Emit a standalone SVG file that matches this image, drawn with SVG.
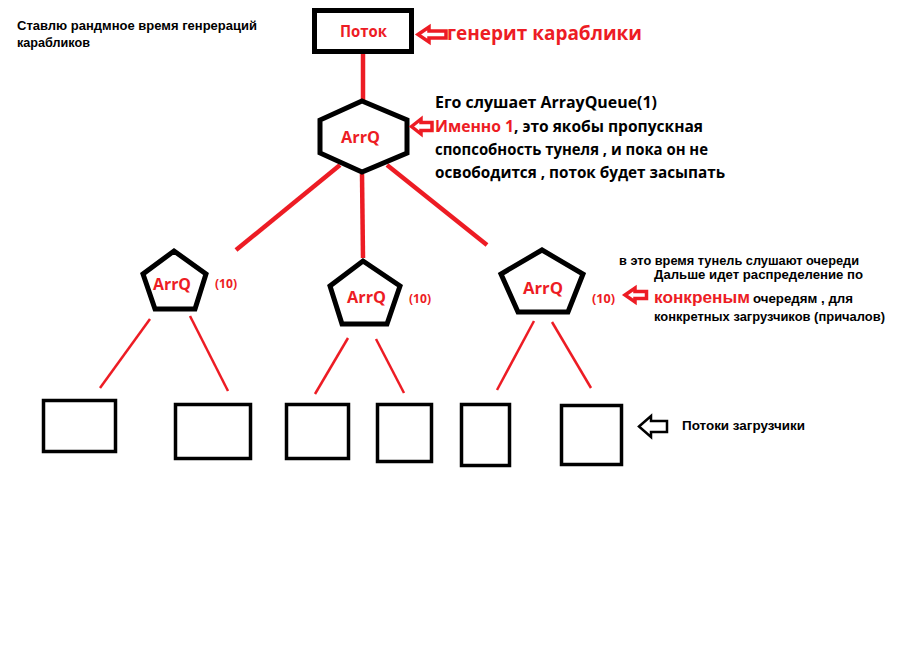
<svg xmlns="http://www.w3.org/2000/svg" width="911" height="668" viewBox="0 0 911 668">
<style>
.bg{fill:#fff}
.shape{fill:#fff;stroke:#000;stroke-width:5;stroke-linejoin:miter}
.box{fill:#fff;stroke:#000;stroke-width:3.5}
.thick{stroke:#ed1c24;stroke-width:4.5;fill:none}
.thin{stroke:#ed1c24;stroke-width:2.5;fill:none}
.rarrow{fill:#fff;stroke:#ed1c24;stroke-width:3.5;stroke-linejoin:miter}
.barrow{fill:#fff;stroke:#000;stroke-width:2.5;stroke-linejoin:miter}
text{font-family:"Open Sans","Liberation Sans",sans-serif;font-weight:700}
.small{font-family:"Liberation Sans","Open Sans",sans-serif}
.red{fill:#ed1c24}
.blk{fill:#000}
</style>
<rect class="bg" x="0" y="0" width="911" height="668"/>
<g id="connectors">
<line class="thick" x1="363" y1="53" x2="363" y2="100"/>
<line class="thick" x1="340" y1="165" x2="236" y2="250"/>
<line class="thick" x1="362" y1="174" x2="363" y2="258"/>
<line class="thick" x1="387" y1="165" x2="487" y2="245"/>
<line class="thin" x1="150" y1="319" x2="100" y2="388"/>
<line class="thin" x1="190" y1="316" x2="228" y2="391"/>
<line class="thin" x1="348" y1="338" x2="315" y2="394"/>
<line class="thin" x1="376" y1="339" x2="404" y2="393"/>
<line class="thin" x1="534" y1="321" x2="497" y2="390"/>
<line class="thin" x1="552" y1="322" x2="591" y2="388"/>
</g>
<g id="note-left">
<text class="blk small" x="17" y="30" font-size="12.5" textLength="240" lengthAdjust="spacingAndGlyphs">Ставлю рандмное время генрераций</text>
<text class="blk small" x="17" y="47" font-size="12.5" textLength="73" lengthAdjust="spacingAndGlyphs">карабликов</text>
</g>
<g id="potok">
<rect x="314.5" y="10.5" width="97" height="41" fill="#fff" stroke="#000" stroke-width="5"/>
<text class="red" x="340" y="37" font-size="16" textLength="47" lengthAdjust="spacingAndGlyphs">Поток</text>
</g>
<g id="potok-note">
<path class="rarrow" d="M418,34.5 L429,27 L429,31 L446,31 L446,38 L429,38 L429,42 Z"/>
<text class="red" x="447" y="40" font-size="19.5" textLength="195" lengthAdjust="spacingAndGlyphs">генерит караблики</text>
</g>
<g id="hex">
<polygon class="shape" points="362,101 407,120 407,153 362,172 320,153 320,120"/>
<text class="red" x="341" y="143" font-size="15.5" textLength="39" lengthAdjust="spacingAndGlyphs">ArrQ</text>
</g>
<g id="hex-note">
<path class="rarrow" d="M411.5,126.5 L421,119 L421,122.5 L432,122.5 L432,130.5 L421,130.5 L421,134 Z"/>
<text class="blk" x="435" y="108" font-size="16" textLength="222" lengthAdjust="spacingAndGlyphs">Его слушает ArrayQueue(1)</text>
<text class="red" x="435" y="132" font-size="16" textLength="79" lengthAdjust="spacingAndGlyphs">Именно 1</text>
<text class="blk" x="514" y="132" font-size="16" textLength="189" lengthAdjust="spacingAndGlyphs">, это якобы пропускная</text>
<text class="blk" x="435" y="155" font-size="16" textLength="273" lengthAdjust="spacingAndGlyphs">спопсобность тунеля , и пока он не</text>
<text class="blk" x="435" y="178" font-size="16" textLength="290" lengthAdjust="spacingAndGlyphs">освободится , поток будет засыпать</text>
</g>
<g id="pent1">
<polygon class="shape" points="174,251 206,274 195,309 155,309 143,274"/>
<text class="red" x="153" y="290" font-size="15.5" textLength="38" lengthAdjust="spacingAndGlyphs">ArrQ</text>
<text class="red" x="215" y="288" font-size="12" textLength="22" lengthAdjust="spacingAndGlyphs">(10)</text>
</g>
<g id="pent2">
<polygon class="shape" points="363,261 400,286 387,324 342,324 330,286"/>
<text class="red" x="347" y="303" font-size="15.5" textLength="39" lengthAdjust="spacingAndGlyphs">ArrQ</text>
<text class="red" x="409" y="303" font-size="12" textLength="22" lengthAdjust="spacingAndGlyphs">(10)</text>
</g>
<g id="pent3">
<polygon class="shape" points="542,250 583,274 568,312 518,312 501,274"/>
<text class="red" x="523" y="294" font-size="15.5" textLength="40" lengthAdjust="spacingAndGlyphs">ArrQ</text>
<text class="red" x="592" y="303" font-size="12" textLength="23" lengthAdjust="spacingAndGlyphs">(10)</text>
</g>
<g id="queue-note">
<path class="rarrow" d="M625,295 L635,288 L635,291.5 L646.5,291.5 L646.5,298.5 L635,298.5 L635,302 Z"/>
<text class="blk small" x="619" y="265" font-size="12" textLength="240" lengthAdjust="spacingAndGlyphs">в это время тунель слушают очереди</text>
<text class="blk small" x="654" y="279" font-size="12" textLength="209" lengthAdjust="spacingAndGlyphs">Дальше идет распределение по</text>
<text class="red small" x="654" y="303" font-size="17" textLength="96" lengthAdjust="spacingAndGlyphs">конкреным</text>
<text class="blk small" x="753" y="303" font-size="12.5" textLength="100" lengthAdjust="spacingAndGlyphs">очередям , для</text>
<text class="blk small" x="654" y="321" font-size="12.5" textLength="231" lengthAdjust="spacingAndGlyphs">конкретных загрузчиков (причалов)</text>
</g>
<g id="box1"><rect class="box" x="43.5" y="400.5" width="72" height="51"/></g>
<g id="box2"><rect class="box" x="175.5" y="404.5" width="75" height="54"/></g>
<g id="box3"><rect class="box" x="286.5" y="404.5" width="62" height="54"/></g>
<g id="box4"><rect class="box" x="377.5" y="404.5" width="54" height="57"/></g>
<g id="box5"><rect class="box" x="461.5" y="404.5" width="48" height="61"/></g>
<g id="box6"><rect class="box" x="561.5" y="405.5" width="60" height="59"/></g>
<g id="loaders-note">
<path class="barrow" d="M639,426.5 L651,416 L651,421 L667,421 L667,432 L651,432 L651,437 Z"/>
<text class="blk small" x="682" y="430" font-size="12" textLength="123" lengthAdjust="spacingAndGlyphs">Потоки загрузчики</text>
</g>
</svg>
